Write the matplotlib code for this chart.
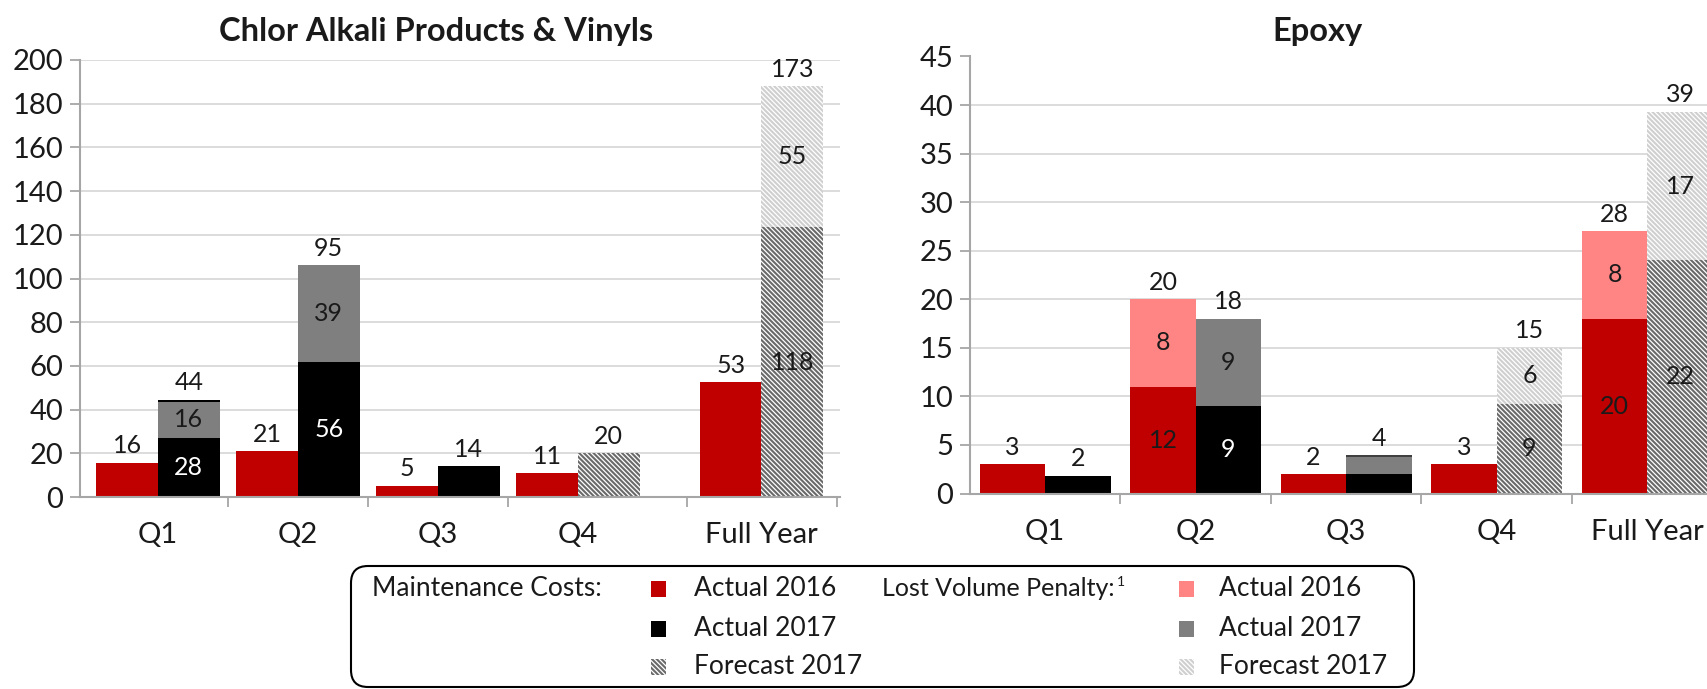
import matplotlib
matplotlib.use("Agg")
import matplotlib.pyplot as plt
import numpy as np
from matplotlib.patches import Rectangle, FancyBboxPatch

categories = ["Q1", "Q2", "Q3", "Q4", "Full Year"]

# Chlor Alkali Products & Vinyls (bar heights as drawn in the source)
chlor_maint_2016 = [15.6, 20.9, 5.2, 10.8, 52.5]
chlor_maint_2017 = [27, 62, 14, 0, 0]
chlor_cap_2017 = [0.9, 0, 0, 0, 0]
chlor_lvp_2017 = [16.5, 44, 0, 0, 0]
chlor_fcst_maint = [0, 0, 0, 20, 123.5]
chlor_fcst_lvp = [0, 0, 0, 0, 64.5]

chlor_lbl_2016 = ["16", "21", "5", "11", "53"]
chlor_lbl_2017 = ["44", "95", "14", "20", "173"]
chlor_lbl_maint_2017 = ["28", "56", "", "", ""]
chlor_lbl_lvp_2017 = ["16", "39", "", "", ""]
chlor_lbl_fcst_maint = ["", "", "", "", "118"]
chlor_lbl_fcst_lvp = ["", "", "", "", "55"]

# Epoxy
epoxy_maint_2016 = [3, 11, 2, 3, 18]
epoxy_lvp_2016 = [0, 9, 0, 0, 9]
epoxy_maint_2017 = [1.85, 9, 2.05, 0, 0]
epoxy_lvp_2017 = [0, 9, 1.75, 0, 0]
epoxy_cap_2017 = [0, 0, 0.12, 0, 0]
epoxy_fcst_maint = [0, 0, 0, 9.2, 24]
epoxy_fcst_lvp = [0, 0, 0, 5.8, 15.3]

epoxy_lbl_2016 = ["3", "20", "2", "3", "28"]
epoxy_lbl_2017 = ["2", "18", "4", "15", "39"]
epoxy_lbl_maint_2016 = ["", "12", "", "", "20"]
epoxy_lbl_lvp_2016 = ["", "8", "", "", "8"]
epoxy_lbl_maint_2017 = ["", "9", "", "", ""]
epoxy_lbl_lvp_2017 = ["", "9", "", "", ""]
epoxy_lbl_fcst_maint = ["", "", "", "9", "22"]
epoxy_lbl_fcst_lvp = ["", "", "", "6", "17"]

RED = "#c00000"
PINK = "#ff8585"
BLACK = "#000000"
GRAY = "#7f7f7f"
DARK_HATCH = "#6a6a6a"
LIGHT_HATCH = "#cfcfcf"
TXT = "#1a1a1a"
FS = 18
TICK_FS = 21
HATCH = "\\" * 7

plt.rcParams["font.family"] = ["Lato", "DejaVu Sans"]
plt.rcParams["hatch.linewidth"] = 0.9

W, H = 1708, 689
fig = plt.figure(figsize=(W / 100, H / 100), dpi=100)


def fx(x):
    return x / W


def fy(y):
    return 1 - y / H


def style_axis(ax, xs, ymax, ystep, xlim, bounds):
    ax.set_xlim(*xlim)
    ax.set_ylim(0, ymax)
    ax.set_yticks(np.arange(0, ymax + 1, ystep))
    ax.grid(axis="y", color="#d9d9d9", lw=1.3)
    ax.set_axisbelow(True)
    for s in ["top", "right"]:
        ax.spines[s].set_visible(False)
    for s in ["left", "bottom"]:
        ax.spines[s].set_color("#a6a6a6")
        ax.spines[s].set_linewidth(1.5)
    ax.tick_params(axis="y", length=7, width=1.3, color="#a6a6a6", pad=5,
                   labelsize=TICK_FS, labelcolor=TXT)
    ax.set_xticks(xs)
    ax.set_xticklabels(categories)
    ax.tick_params(axis="x", which="major", length=0, pad=18, labelsize=TICK_FS, labelcolor=TXT)
    ax.set_xticks(bounds, minor=True)
    ax.tick_params(axis="x", which="minor", length=7, width=1.3, color="#a6a6a6")


def stack(ax, xs, segs, w):
    bottom = np.zeros(len(xs))
    for vals, color, hatch, labels, lcolor in segs:
        vals = np.array(vals, dtype=float)
        if hatch:
            ax.bar(xs, vals, w, bottom=bottom, color=color, edgecolor="white",
                   lw=0, hatch=hatch, align="edge")
        else:
            ax.bar(xs, vals, w, bottom=bottom, color=color, lw=0, align="edge")
        if labels is not None:
            for x, b, v, t in zip(xs, bottom, vals, labels):
                if t:
                    ax.text(x + w / 2, b + v / 2, t, ha="center", va="center",
                            fontsize=FS, color=lcolor)
        bottom = bottom + vals
    return bottom


def top_labels(ax, xs, tops, labels, w):
    for x, t, s in zip(xs, tops, labels):
        ax.annotate(s, (x + w / 2, t), xytext=(0, 4), textcoords="offset points",
                    ha="center", va="bottom", fontsize=FS, color=TXT)


# ---- left chart
ax1 = fig.add_axes([fx(80), fy(497), (840 - 80) / W, (497 - 60) / H])
x1 = np.array([0, 1, 2, 3, 4.31])
w1 = 0.44
style_axis(ax1, x1, 200, 20, (-0.557, 4.871), [0.5, 1.5, 2.5, 3.78, 4.85])
top = stack(ax1, x1 - w1, [(chlor_maint_2016, RED, None, None, TXT)], w1)
top_labels(ax1, x1 - w1, top, chlor_lbl_2016, w1)
top = stack(ax1, x1, [
    (chlor_maint_2017, BLACK, None, chlor_lbl_maint_2017, "white"),
    (chlor_lvp_2017, GRAY, None, chlor_lbl_lvp_2017, TXT),
    (chlor_cap_2017, BLACK, None, None, TXT),
    (chlor_fcst_maint, DARK_HATCH, HATCH, chlor_lbl_fcst_maint, TXT),
    (chlor_fcst_lvp, LIGHT_HATCH, HATCH, chlor_lbl_fcst_lvp, TXT),
], w1)
top_labels(ax1, x1, top, chlor_lbl_2017, w1)

# ---- right chart
ax2 = fig.add_axes([fx(970), fy(493.5), 752.5 / W, (493.5 - 56.5) / H])
x2 = np.array([0, 1, 2, 3, 4])
w2 = 0.435
style_axis(ax2, x2, 45, 5, (-0.5, 4.5), [0.5, 1.5, 2.5, 3.5])
top = stack(ax2, x2 - w2, [
    (epoxy_maint_2016, RED, None, epoxy_lbl_maint_2016, TXT),
    (epoxy_lvp_2016, PINK, None, epoxy_lbl_lvp_2016, TXT),
], w2)
top_labels(ax2, x2 - w2, top, epoxy_lbl_2016, w2)
top = stack(ax2, x2, [
    (epoxy_maint_2017, BLACK, None, epoxy_lbl_maint_2017, "white"),
    (epoxy_lvp_2017, GRAY, None, epoxy_lbl_lvp_2017, TXT),
    (epoxy_cap_2017, "#404040", None, None, TXT),
    (epoxy_fcst_maint, DARK_HATCH, HATCH, epoxy_lbl_fcst_maint, TXT),
    (epoxy_fcst_lvp, LIGHT_HATCH, HATCH, epoxy_lbl_fcst_lvp, TXT),
], w2)
top_labels(ax2, x2, top, epoxy_lbl_2017, w2)

fig.text(fx(436), fy(31), "Chlor Alkali Products & Vinyls", ha="center", va="center",
         fontsize=23.5, fontweight="bold", color=TXT)
fig.text(fx(1318), fy(31), "Epoxy", ha="center", va="center",
         fontsize=23.5, fontweight="bold", color=TXT)

# ---- legend box (pixel coords via inches)
tr = fig.dpi_scale_trans


def px(x, y):
    return x / 100, (H - y) / 100


bx, by = px(351, 687)
fig.patches.append(FancyBboxPatch((bx, by), (1414 - 351) / 100, (687 - 566) / 100,
                                  boxstyle="round,pad=0,rounding_size=0.17",
                                  transform=tr, facecolor="white", edgecolor=BLACK, lw=1.5))
rows = [589, 628.5, 667]
left_items = [("Actual 2016", RED, None), ("Actual 2017", BLACK, None),
              ("Forecast 2017", DARK_HATCH, HATCH)]
right_items = [("Actual 2016", PINK, None), ("Actual 2017", GRAY, None),
               ("Forecast 2017", LIGHT_HATCH, HATCH)]
LEG_FS = 19
for items, sq_x, tx in [(left_items, 651, 694), (right_items, 1179, 1219)]:
    for (label, color, hatch), ry in zip(items, rows):
        sx, sy = px(sq_x, ry + 8)
        fig.patches.append(Rectangle((sx, sy), 0.15, 0.16, transform=tr, facecolor=color,
                                     edgecolor="white", lw=0, hatch=hatch))
        tx_, ty_ = px(tx, ry)
        fig.text(tx_, ty_, label, transform=tr, ha="left", va="center", fontsize=LEG_FS, color=TXT)

t1x, t1y = px(372, rows[0])
fig.text(t1x, t1y, "Maintenance Costs:", transform=tr, ha="left", va="center",
         fontsize=LEG_FS, color=TXT)
t2x, t2y = px(882, rows[0])
lvp = fig.text(t2x, t2y, "Lost Volume Penalty:", transform=tr, ha="left", va="center",
               fontsize=LEG_FS - 1, color=TXT)
# superscript just after the rendered text
renderer = fig.canvas.get_renderer()
ext = lvp.get_window_extent(renderer)
fig.text(ext.x1 / 100 + 0.02, t2y + 0.07, "1", transform=tr, ha="left", va="center",
         fontsize=10, color=TXT)

fig.savefig("out.png", dpi=100)
